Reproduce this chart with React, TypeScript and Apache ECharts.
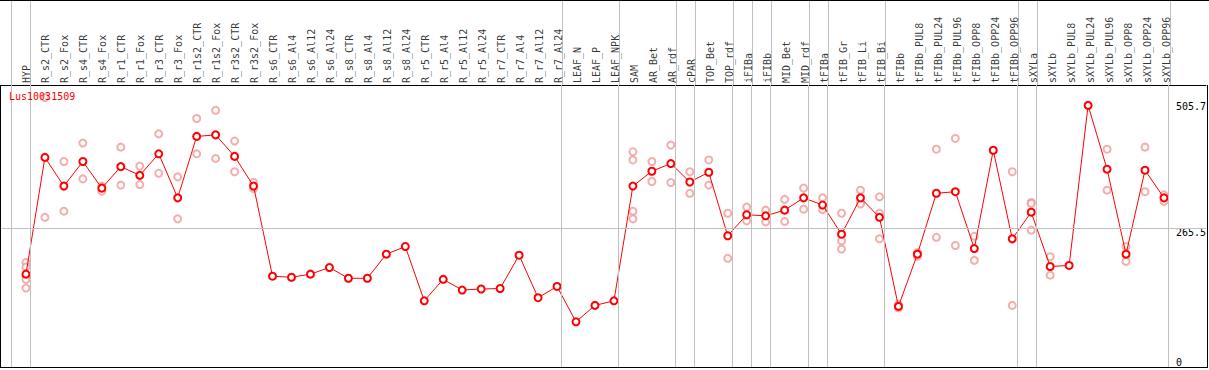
import React, { useEffect, useRef } from "react";
import * as echarts from "echarts";

const title = "Lus10031509";

const categories: string[] = [
  "HYP",
  "R_s2_CTR", "R_s2_Fox", "R_s4_CTR", "R_s4_Fox", "R_r1_CTR", "R_r1_Fox", "R_r3_CTR", "R_r3_Fox",
  "R_r1s2_CTR", "R_r1s2_Fox", "R_r3s2_CTR", "R_r3s2_Fox",
  "R_s6_CTR", "R_s6_Al4", "R_s6_Al12", "R_s6_Al24",
  "R_s8_CTR", "R_s8_Al4", "R_s8_Al12", "R_s8_Al24",
  "R_r5_CTR", "R_r5_Al4", "R_r5_Al12", "R_r5_Al24",
  "R_r7_CTR", "R_r7_Al4", "R_r7_Al12", "R_r7_Al24",
  "LEAF_N", "LEAF_P", "LEAF_NPK",
  "SAM", "AR_Bet", "AR_rdf", "cPAR", "TOP_Bet", "TOP_rdf",
  "iFIBa", "iFIBb", "MID_Bet", "MID_rdf",
  "tFIBa", "tFIB_Gr", "tFIB_Li", "tFIB_Bi",
  "tFIBb", "tFIBb_PUL8", "tFIBb_PUL24", "tFIBb_PUL96", "tFIBb_OPP8", "tFIBb_OPP24", "tFIBb_OPP96",
  "sXYLa",
  "sXYLb", "sXYLb_PUL8", "sXYLb_PUL24", "sXYLb_PUL96", "sXYLb_OPP8", "sXYLb_OPP24", "sXYLb_OPP96",
];

const means: number[] = [
  176,
  404, 348, 396, 344, 386, 369, 411, 325,
  445, 448, 406, 348,
  172, 170, 176, 189,
  168, 168, 215, 230,
  124, 166, 145, 147,
  148, 213, 130, 152,
  83, 115, 124,
  348, 377, 392, 356, 375, 251,
  292, 290, 301, 325,
  311, 254, 325, 287,
  113, 215, 334, 337, 226, 418, 245,
  297,
  191, 193, 505.7, 381, 215, 379, 325,
];

const replicates: number[][] = [
  [199, 190, 166, 149],
  [521, 287], [396, 299], [432, 362], [348, 338], [424, 350], [387, 351], [450, 373], [366, 284],
  [480, 411], [496, 402], [436, 376], [355, 343],
  [], [], [], [],
  [], [], [], [],
  [], [], [], [],
  [], [], [], [],
  [], [], [],
  [415, 399, 299, 284], [396, 357], [428, 355], [376, 334], [399, 350], [295, 207],
  [307, 280], [301, 278], [322, 279], [344, 303],
  [325, 302], [295, 241, 225], [340, 316, 313], [327, 295, 245],
  [117, 110], [218, 211], [420, 248], [441, 232], [250, 203], [], [376, 115],
  [316, 314, 262],
  [210, 174], [], [], [420, 340], [230, 201], [424, 337], [331, 318],
];

// group separators are drawn just after these category indices
const groupBreaksAfter: number[] = [-1, 0, 28, 31, 34, 35, 37, 38, 39, 41, 42, 45, 52, 53, 60];

const yTickLabels: number[] = [0, 265.5, 505.7];
const yGridValue = 265.5;

const FONT = "'DejaVu Sans Mono', monospace";

export default function App() {
  const ref = useRef<HTMLDivElement>(null);

  useEffect(() => {
    document.body.style.margin = "0";
    if (!ref.current) return;
    const chart = echarts.init(ref.current, undefined, { renderer: "svg" });

    const W = 1209;
    const plotLeft = 1;
    const plotRight = 1208;
    const plotTop = 85;
    const plotBottom = 368;
    const step = 19;
    const firstX = 26;
    const xMin = (plotLeft - firstX) / step;
    const xMax = (plotRight - firstX) / step;
    const pxPerUnit = 0.5121;
    const zeroY = 364.3;
    const yMin = -(plotBottom - zeroY) / pxPerUnit;
    const yMax = (zeroY - plotTop) / pxPerUnit;

    const repData: number[][] = [];
    replicates.forEach((arr, i) => arr.forEach((v) => repData.push([i, v])));
    const meanData = means.map((v, i) => [i, v]);
    const labelData = categories.map((_, i) => [i, 0]);
    const sepLines = groupBreaksAfter.map((k) => ({ xAxis: k + 0.24 }));
    const gray = { color: "#c0c0c0", type: "solid", width: 1 };

    chart.setOption({
      animation: false,
      backgroundColor: "#fff",
      title: {
        text: title,
        left: 9,
        top: 91,
        padding: 0,
        textStyle: { color: "#ff0000", fontSize: 10, fontWeight: "normal", fontFamily: FONT },
      },
      grid: [
        { left: plotLeft, right: W - plotRight, top: 0, height: plotTop, containLabel: false },
        { left: plotLeft, right: W - plotRight, top: plotTop, bottom: 370 - plotBottom, containLabel: false },
      ],
      xAxis: [
        { gridIndex: 0, type: "value", min: xMin, max: xMax, show: false },
        {
          gridIndex: 1,
          type: "value",
          position: "top",
          min: xMin,
          max: xMax,
          axisLine: { show: true, onZero: false, lineStyle: { color: "#000", width: 1 } },
          axisTick: { show: false },
          splitLine: { show: false },
          axisLabel: { show: false },
        },
      ],
      yAxis: [
        { gridIndex: 0, type: "value", min: 0, max: 1, show: false },
        {
          gridIndex: 1,
          type: "value",
          position: "right",
          min: yMin,
          max: yMax,
          axisLine: { show: false },
          axisTick: { show: false },
          splitLine: { show: false },
          axisLabel: {
            customValues: yTickLabels,
            inside: true,
            margin: 30,
            align: "left",
            verticalAlign: "middle",
            formatter: (v: number) => {
              if (v === yTickLabels[0]) return "{b|" + v + "}";
              if (v === yTickLabels[1]) return "{m|" + v + "}";
              return "{t|" + v + "}";
            },
            rich: {
              b: { fontSize: 10, fontFamily: FONT, color: "#000", padding: [0, 0, 4, 0] },
              m: { fontSize: 10, fontFamily: FONT, color: "#000", padding: [8, 0, 0, 0] },
              t: { fontSize: 10, fontFamily: FONT, color: "#000", padding: [3, 0, 0, 0] },
            },
          },
        },
      ],
      graphic: [
        { type: "line", silent: true, z: 100, shape: { x1: 0, y1: 0.5, x2: W, y2: 0.5 }, style: { stroke: "#000", lineWidth: 1 } },
        { type: "line", silent: true, z: 100, shape: { x1: 0.5, y1: plotTop, x2: 0.5, y2: plotBottom }, style: { stroke: "#000", lineWidth: 1 } },
        { type: "line", silent: true, z: 100, shape: { x1: plotRight - 0.5, y1: plotTop, x2: plotRight - 0.5, y2: plotBottom }, style: { stroke: "#000", lineWidth: 1 } },
        { type: "line", silent: true, z: 100, shape: { x1: 0, y1: plotBottom - 0.5, x2: plotRight, y2: plotBottom - 0.5 }, style: { stroke: "#000", lineWidth: 1 } },
      ],
      series: [
        {
          type: "line",
          name: "separators-top",
          xAxisIndex: 0,
          yAxisIndex: 0,
          data: [],
          silent: true,
          markLine: { silent: true, symbol: "none", label: { show: false }, lineStyle: gray, data: sepLines },
        },
        {
          type: "scatter",
          name: "sample labels",
          xAxisIndex: 0,
          yAxisIndex: 0,
          data: labelData,
          symbolSize: 0,
          silent: true,
          itemStyle: { color: "transparent" },
          label: {
            show: true,
            position: [0, 0],
            rotate: 90,
            align: "left",
            verticalAlign: "middle",
            padding: [5, 0, 0, 2],
            formatter: (p: any) => categories[p.dataIndex],
            fontSize: 10,
            fontFamily: FONT,
            color: "#000",
          },
          labelLayout: { hideOverlap: false },
          z: 5,
        },
        {
          type: "line",
          name: "separators",
          xAxisIndex: 1,
          yAxisIndex: 1,
          data: [],
          silent: true,
          markLine: {
            silent: true,
            symbol: "none",
            label: { show: false },
            lineStyle: gray,
            data: [...sepLines, { yAxis: yGridValue }],
          },
        },
        {
          type: "scatter",
          name: "replicates",
          xAxisIndex: 1,
          yAxisIndex: 1,
          data: repData,
          symbol: "emptyCircle",
          symbolSize: 7,
          itemStyle: { color: "#f09a9a", borderColor: "#ee9090", borderWidth: 1.1 },
          z: 3,
        },
        {
          type: "line",
          name: "mean",
          xAxisIndex: 1,
          yAxisIndex: 1,
          data: meanData,
          symbol: "emptyCircle",
          symbolSize: 7,
          lineStyle: { color: "#ff0000", width: 1 },
          itemStyle: { color: "#ff0000", borderColor: "#ff0000", borderWidth: 1.3 },
          z: 4,
        },
      ],
    });

    return () => chart.dispose();
  }, []);

  return <div ref={ref} style={{ width: 1209, height: 370 }} />;
}
